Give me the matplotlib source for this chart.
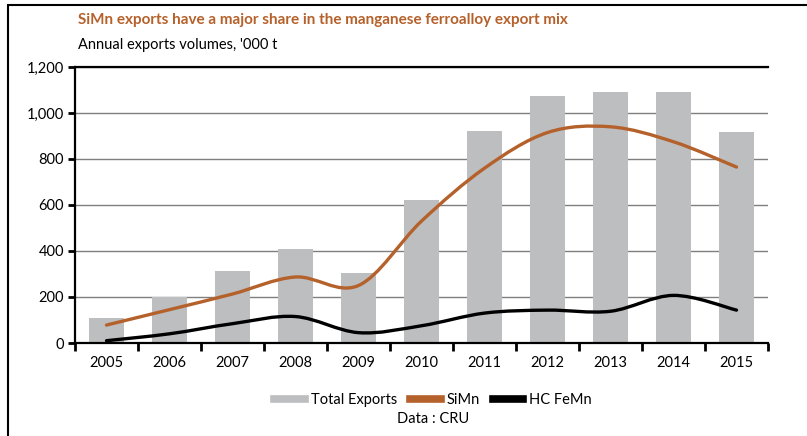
import matplotlib
matplotlib.use("Agg")
import matplotlib.pyplot as plt
from matplotlib.path import Path
from matplotlib.patches import PathPatch, Rectangle
from matplotlib.lines import Line2D

plt.rcParams['font.family'] = ['Lato', 'DejaVu Sans']

# Data ('000 t)
years = ['2005', '2006', '2007', '2008', '2009', '2010', '2011', '2012', '2013', '2014', '2015']
total_exports = [110, 200, 315, 410, 305, 620, 920, 1075, 1090, 1090, 918]
simn = [78, 145, 213, 287, 250, 530, 760, 915, 940, 875, 765]
hc_femn = [10, 40, 84, 115, 45, 75, 130, 143, 138, 207, 143]

BAR_COL = '#BDBEC0'
SIMN_COL = '#B5612B'


def smooth_path(xs, ys):
    # Excel-like smoothed line: Catmull-Rom segments as cubic Beziers
    pts = list(zip(xs, ys))
    n = len(pts)
    verts = [pts[0]]
    codes = [Path.MOVETO]
    for i in range(n - 1):
        p0 = pts[i - 1] if i > 0 else pts[i]
        p1 = pts[i]
        p2 = pts[i + 1]
        p3 = pts[i + 2] if i + 2 < n else pts[i + 1]
        c1 = (p1[0] + (p2[0] - p0[0]) / 6, p1[1] + (p2[1] - p0[1]) / 6)
        c2 = (p2[0] - (p3[0] - p1[0]) / 6, p2[1] - (p3[1] - p1[1]) / 6)
        verts += [c1, c2, p2]
        codes += [Path.CURVE4] * 3
    return Path(verts, codes)


fig = plt.figure(figsize=(8.07, 4.36), dpi=100)
ax = fig.add_axes([75 / 807, 93 / 436, 693 / 807, 276 / 436])

x = list(range(len(years)))
ax.bar(x, total_exports, width=0.56, color=BAR_COL, zorder=2)
ax.add_patch(PathPatch(smooth_path(x, simn), fill=False, edgecolor=SIMN_COL,
                       lw=2.4, capstyle='round', zorder=3))
ax.add_patch(PathPatch(smooth_path(x, hc_femn), fill=False, edgecolor='black',
                       lw=2.4, capstyle='round', zorder=3))

ax.set_xlim(-0.5, len(years) - 0.5)
ax.set_ylim(0, 1200)
ax.set_yticks(range(0, 1201, 200))
ax.set_yticklabels([f'{v:,}' for v in range(0, 1201, 200)], fontsize=10.5)
ax.set_xticks(x)
ax.set_xticklabels(years, fontsize=10.5)
ax.set_xticks([i - 0.5 for i in range(len(years) + 1)], minor=True)
ax.tick_params(axis='x', which='major', length=0, pad=9)
ax.tick_params(axis='x', which='minor', length=6, width=2, direction='out')
ax.tick_params(axis='y', length=5, width=2, direction='out', pad=3)

ax.grid(axis='y', color='#7F7F7F', lw=1, zorder=1)
ax.spines['right'].set_visible(False)
for s in ['left', 'bottom', 'top']:
    ax.spines[s].set_linewidth(1.6)
    ax.spines[s].set_color('black')

# titles
fig.text(78 / 807, 1 - 20 / 436, 'SiMn exports have a major share in the manganese ferroalloy export mix',
         color=SIMN_COL, fontsize=11, fontweight='bold', va='center', ha='left')
fig.text(78 / 807, 1 - 45 / 436, "Annual exports volumes, '000 t",
         color='black', fontsize=10.5, va='center', ha='left')

# legend
handles = [Line2D([], [], color=BAR_COL, lw=5.5),
           Line2D([], [], color=SIMN_COL, lw=5.5),
           Line2D([], [], color='black', lw=5.5)]
fig.legend(handles, ['Total Exports', 'SiMn', 'HC FeMn'], ncol=3, frameon=False,
           loc='center', bbox_to_anchor=(433 / 807, 1 - 400 / 436), fontsize=10.5,
           handlelength=2.1, handletextpad=0.4, columnspacing=0.9)
fig.text(433 / 807, 1 - 419 / 436, 'Data : CRU', fontsize=10.5, ha='center', va='center')

# outer frame (left and top edges)
fig.add_artist(Rectangle((8 / 807, -0.1), 1.2, 1 - 5 / 436 + 0.1, transform=fig.transFigure,
                         fill=False, edgecolor='black', lw=1.5))

fig.savefig('out.png', dpi=100)
